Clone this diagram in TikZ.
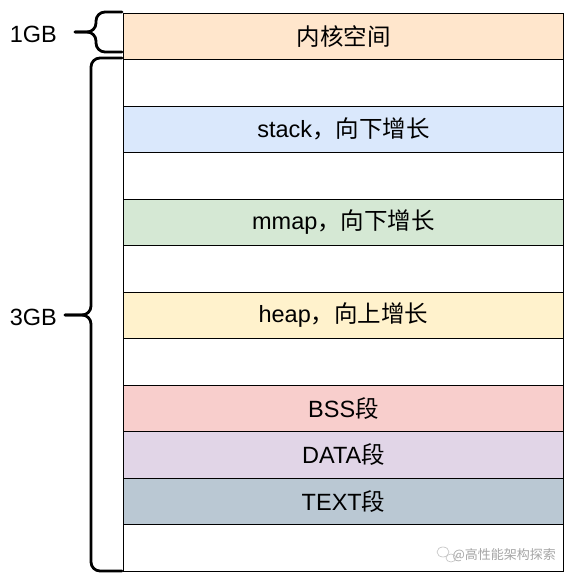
\documentclass[tikz,border=0pt]{standalone}
\usepackage{fontspec}
\setmainfont{Liberation Sans}
\newfontfamily\cjk{Noto Sans CJK SC}
\definecolor{cKernel}{HTML}{FFE6CC}
\definecolor{cStack}{HTML}{DAE8FC}
\definecolor{cMmap}{HTML}{D5E8D4}
\definecolor{cHeap}{HTML}{FFF2CC}
\definecolor{cBss}{HTML}{F8CECC}
\definecolor{cData}{HTML}{E1D5E7}
\definecolor{cText}{HTML}{BAC8D3}
\begin{document}
\begin{tikzpicture}[x=1pt,y=-1pt,
  seg/.style={draw=black, line width=1pt, minimum width=440pt, minimum height=46.5pt,
    inner sep=0pt, anchor=north west, font=\fontsize{23.5}{26}\selectfont},
  bracepath/.style={line width=2.8pt, rounded corners=9pt, line cap=round},
  sizelabel/.style={font=\fontsize{23.5}{26}\selectfont, anchor=east, inner sep=0pt}]
\useasboundingbox (0,0) rectangle (572,584);
\fill[white] (0,0) rectangle (572,584);
\node[seg, fill=cKernel] (kernel) at (123,12.5) {{\cjk 内核空间}};
\node[seg, fill=white]   (gap1)  at (123,59) {};
\node[seg, fill=cStack]  (stack) at (123,105.5) {stack{\cjk ，向下增长}};
\node[seg, fill=white]   (gap2)  at (123,152) {};
\node[seg, fill=cMmap]   (mmap)  at (123,198.5) {mmap{\cjk ，向下增长}};
\node[seg, fill=white]   (gap3)  at (123,245) {};
\node[seg, fill=cHeap]   (heap)  at (123,291.5) {heap{\cjk ，向上增长}};
\node[seg, fill=white]   (gap4)  at (123,338) {};
\node[seg, fill=cBss]    (bss)   at (123,384.5) {BSS{\cjk 段}};
\node[seg, fill=cData]   (data)  at (123,431) {DATA{\cjk 段}};
\node[seg, fill=cText]   (text)  at (123,477.5) {TEXT{\cjk 段}};
\node[seg, fill=white]   (gap5)  at (123,524) {};
% braces
\coordinate (b1tip) at (75,32);
\draw[bracepath] (122,12) -- (96,12) -- (96,32) -- (b1tip);
\draw[bracepath] (b1tip) -- (96,32) -- (96,52) -- (122,52);
\coordinate (b3tip) at (65,315);
\draw[bracepath] (122,58) -- (91,58) -- (91,315) -- (b3tip);
\draw[bracepath] (b3tip) -- (91,315) -- (91,571) -- (122,571);
\node[sizelabel] (l1) at (57,34) {1GB};
\node[sizelabel] (l3) at (57,317) {3GB};
% watermark
\node[font=\cjk\fontsize{13}{15}\selectfont, text=black!35, anchor=east, inner sep=0pt] (wm) at (556,555) {@高性能架构探索};
\draw[black!25, line width=0.6pt] (443,552) ellipse (6 and 5);
\draw[black!25, line width=0.6pt] (451,558) ellipse (5 and 4);
\end{tikzpicture}
\end{document}
